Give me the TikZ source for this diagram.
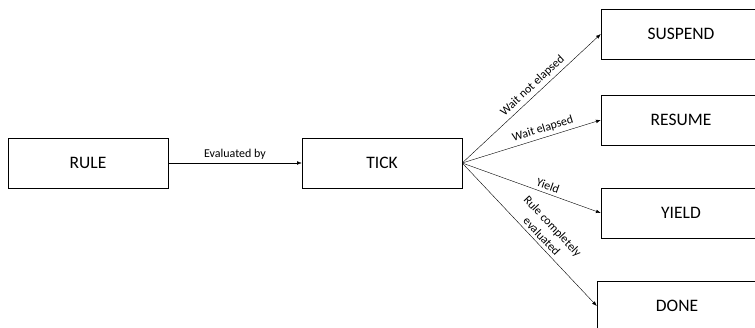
\documentclass[tikz,border=0pt]{standalone}
\usepackage{fontspec}
\setmainfont{Carlito}
\usetikzlibrary{arrows, arrows.meta}
\usetikzlibrary{positioning}

\tikzset{
  state/.style={draw, thin, minimum width=160pt, minimum height=50pt, font=\fontsize{17.5}{20}\selectfont},
  flow/.style={-Latex, thin},
  lbl/.style={font=\fontsize{12}{15}\selectfont, sloped, above, align=center}
}

\begin{document}
\begin{tikzpicture}[x=1pt, y=-1pt]
\clip (0,0) rectangle (755,328);

%boxes
\node [state] (rule) at (88,163) {RULE};
\node [state] (tick) at (382,163) {TICK};
\node [state] (suspend) at (681,34) {SUSPEND};
\node [state] (resume) at (681,120) {RESUME};
\node [state] (yield) at (681,213) {YIELD};
\node [state] (done) at (677,306) {DONE};

%arrows
\draw [flow] (rule) -- node [lbl] {Evaluated by} (tick);
\draw [flow] (tick.east) -- node [lbl, pos=0.55] {Wait not elapsed} (suspend.west);
\draw [flow] (tick.east) -- node [lbl, pos=0.6] {Wait elapsed} (resume.west);
\draw [flow] (tick.east) -- node [lbl, pos=0.6] {Yield} (yield.west);
\draw [flow] (tick.east) -- node [lbl, pos=0.55] {Rule completely\\evaluated} (done.west);

\end{tikzpicture}
\end{document}
